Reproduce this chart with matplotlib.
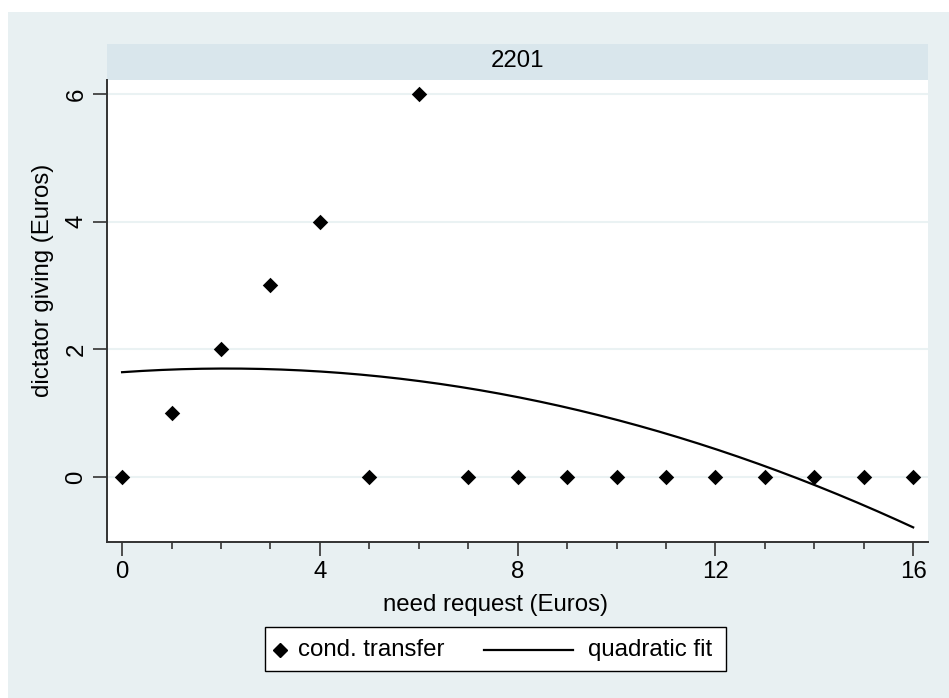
import numpy as np
import matplotlib
matplotlib.use("Agg")
import matplotlib.pyplot as plt
from matplotlib.patches import Rectangle
from matplotlib.lines import Line2D

plt.rcParams['font.family'] = ['Liberation Sans', 'DejaVu Sans']

# need request (Euros) and conditional transfer (Euros)
need_request = [0, 1, 2, 3, 4, 5, 6, 7, 8, 9, 10, 11, 12, 13, 14, 15, 16]
cond_transfer = [0, 1, 2, 3, 4, 0, 6, 0, 0, 0, 0, 0, 0, 0, 0, 0, 0]
panel_title = "2201"
x_ticks = [0, 4, 8, 12, 16]
y_ticks = [0, 2, 4, 6]
legend_labels = ["cond. transfer", "quadratic fit"]

BG = "#E8F0F2"
STRIP = "#D9E6EC"
GRID = "#EAF2F3"
FS = 17.3

W, H = 949, 698
fig = plt.figure(figsize=(W / 100, H / 100), dpi=100)
fig.patch.set_facecolor("white")


def fx(px):
    return px / W


def fy(py):
    return 1 - py / H


# outer graph region
fig.add_artist(Rectangle((fx(8), fy(698)), (W - 8) / W, 686 / H,
                         transform=fig.transFigure, facecolor=BG,
                         edgecolor="none", zorder=-10))

left, right, top, bottom = 107, 928, 80, 542
ax = fig.add_axes([fx(left), fy(bottom), (right - left) / W, (bottom - top) / H])
ax.set_facecolor("white")

# panel title strip
fig.add_artist(Rectangle((fx(left), fy(top)), (right - left) / W, 36 / H,
                         transform=fig.transFigure, facecolor=STRIP,
                         edgecolor="none", zorder=-5))
fig.text(fx((left + right) / 2), fy(61), panel_title, ha="center",
         va="center", fontsize=FS)

x = np.array(need_request, dtype=float)
y = np.array(cond_transfer, dtype=float)
coef = np.polyfit(x, y, 2)
xf = np.linspace(x.min(), x.max(), 200)
yf = np.polyval(coef, xf)

ax.scatter(x, y, marker="D", s=62, color="black", zorder=3, linewidths=0)
ax.plot(xf, yf, color="black", lw=1.6, zorder=2)

ax.set_xlim(-0.305, 16.3)
ax.set_ylim(-1.02, 6.22)

ax.set_xticks(x_ticks)
ax.set_xticks(need_request, minor=True)
ax.set_yticks(y_ticks)
ax.set_xticklabels([str(t) for t in x_ticks], fontsize=FS)
ax.set_yticklabels([str(t) for t in y_ticks], fontsize=FS, rotation=90,
                   va="center")
ax.tick_params(axis="both", which="major", length=10, width=1.2,
               color="#333333", pad=4)
ax.tick_params(axis="x", which="minor", length=5, width=1.2, color="#333333")

for yt in y_ticks:
    ax.axhline(yt, color=GRID, lw=1.5, zorder=0)

for s in ["top", "right"]:
    ax.spines[s].set_visible(False)
for s in ["left", "bottom"]:
    ax.spines[s].set_color("#333333")
    ax.spines[s].set_linewidth(1.4)

ax.set_xlabel("need request (Euros)", fontsize=FS)
ax.set_ylabel("dictator giving (Euros)", fontsize=FS)
ax.xaxis.set_label_coords((496 - left) / (right - left), (bottom - 605) / (bottom - top))
ax.xaxis.label.set_va("center")
ax.yaxis.set_label_coords((43 - left) / (right - left), (bottom - 280) / (bottom - top))
ax.yaxis.label.set_va("center")

# legend box with marker / line keys
fig.add_artist(Rectangle((fx(265), fy(671)), 461 / W, 44 / H,
                         transform=fig.transFigure, facecolor="white",
                         edgecolor="black", lw=1.0, zorder=5))
fig.add_artist(Line2D([fx(280)], [fy(650)], marker="D", markersize=7,
                      color="black", lw=0, transform=fig.transFigure, zorder=6))
fig.text(fx(298), fy(650), legend_labels[0], fontsize=FS, va="center",
         ha="left", zorder=6)
fig.add_artist(Line2D([fx(484), fx(573)], [fy(650), fy(650)], color="black",
                      lw=1.6, transform=fig.transFigure, zorder=6))
fig.text(fx(588), fy(650), legend_labels[1], fontsize=FS, va="center",
         ha="left", zorder=6)

fig.savefig("out.png", dpi=100, facecolor=fig.get_facecolor())
